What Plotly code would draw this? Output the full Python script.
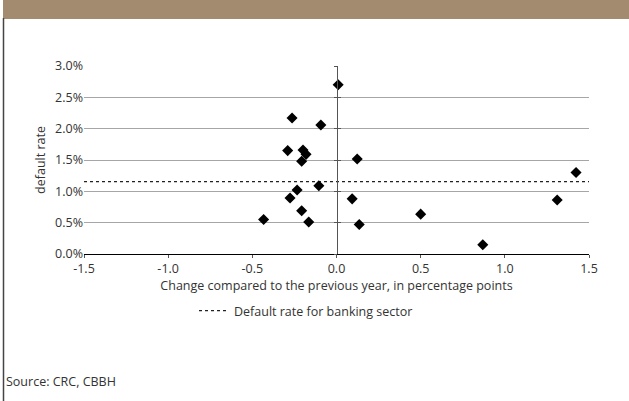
import plotly.graph_objects as go

# Data
change_pp = [-0.264, -0.093, -0.290, -0.199, -0.181, -0.207, -0.105, -0.234, -0.276,
             -0.207, -0.165, -0.433, 0.010, 0.123, 0.093, 0.135, 0.500, 0.869, 1.311, 1.423]
default_rate = [2.17, 2.06, 1.65, 1.66, 1.59, 1.48, 1.09, 1.02, 0.895,
                0.69, 0.51, 0.55, 2.70, 1.515, 0.88, 0.47, 0.636, 0.148, 0.863, 1.30]
sector_rate = 1.155
x_range = [-1.5, 1.5]
x_ticks = [-1.5, -1.0, -0.5, 0.0, 0.5, 1.0, 1.5]
x_ticktext = ["-1.5", "-1.0", "-0.5", "0.0", "0.5", "1.0", "1.5"]
y_ticks = [0.0, 0.5, 1.0, 1.5, 2.0, 2.5, 3.0]
y_ticktext = ["0.0%", "0.5%", "1.0%", "1.5%", "2.0%", "2.5%", "3.0%"]

FONT = "Open Sans"
TXT = "#333333"
FS = 12.5

fig = go.Figure()
fig.add_trace(go.Scatter(
    x=x_range, y=[sector_rate, sector_rate], mode="lines",
    line=dict(color="#222222", width=1.3, dash="dot"),
    name="Default rate for banking sector", hoverinfo="skip"))
fig.add_trace(go.Scatter(
    x=change_pp, y=default_rate, mode="markers",
    marker=dict(symbol="diamond", size=8.5, color="black"),
    showlegend=False))
# helper traces for vertical axis at x=0 (tick crosses)
fig.add_trace(go.Scatter(x=[None], y=[None], yaxis="y2", showlegend=False, hoverinfo="skip"))
fig.add_trace(go.Scatter(x=[None], y=[None], yaxis="y3", showlegend=False, hoverinfo="skip"))

W, H = 629, 401
L, R, T, B = 84, 40, 66, 147
pw, ph = W - L - R, H - T - B

def px(xp):
    return (xp - L) / pw

def py(yp):
    return 1 + (T - yp) / ph

shapes = [
    dict(type="rect", xref="paper", yref="paper", x0=px(3), x1=px(629), y0=py(19), y1=py(0),
         fillcolor="#A38B6F", line=dict(width=0), layer="below"),
    dict(type="line", xref="paper", yref="paper", x0=px(3.5), x1=px(3.5), y0=py(18), y1=py(401),
         line=dict(color="#444444", width=1.5)),
]

fig.update_layout(
    width=W, height=H,
    margin=dict(l=L, r=R, t=T, b=B),
    paper_bgcolor="white", plot_bgcolor="white",
    font=dict(family=FONT, size=FS, color=TXT),
    xaxis=dict(range=x_range, tickvals=x_ticks, ticktext=x_ticktext,
               showgrid=False, zeroline=False, showline=True, linecolor="black", linewidth=1,
               ticks="outside", ticklen=3, tickcolor="#555555",
               title=dict(text="Change compared to the previous year, in percentage points",
                          font=dict(size=FS, color=TXT), standoff=0),
               tickfont=dict(size=FS, color=TXT), fixedrange=True),
    yaxis=dict(range=[0, 3.0], tickvals=y_ticks, ticktext=y_ticktext,
               showgrid=True, gridcolor="#A6A6A6", gridwidth=1, zeroline=False, showline=False,
               ticks="", title=dict(text="default rate", font=dict(size=FS, color=TXT), standoff=6),
               tickfont=dict(size=FS, color=TXT), fixedrange=True),
    yaxis2=dict(range=[0, 3.0], overlaying="y", anchor="free", position=0.5, side="left",
                showline=True, linecolor="#555555", linewidth=1, showgrid=False, zeroline=False,
                tickvals=y_ticks, ticks="outside", ticklen=3, tickcolor="#555555",
                showticklabels=False, fixedrange=True),
    yaxis3=dict(range=[0, 3.0], overlaying="y", anchor="free", position=0.5, side="left",
                showline=False, showgrid=False, zeroline=False,
                tickvals=y_ticks, ticks="inside", ticklen=3, tickcolor="#555555",
                showticklabels=False, fixedrange=True),
    showlegend=True,
    legend=dict(orientation="h", x=px(194), xanchor="left", y=py(296), yanchor="top",
                font=dict(size=FS, color=TXT), bgcolor="rgba(0,0,0,0)", itemwidth=30),
    shapes=shapes,
    annotations=[dict(text="Source: CRC, CBBH", xref="paper", yref="paper",
                      x=px(4), y=py(381), xanchor="left", yanchor="middle", showarrow=False,
                      font=dict(size=FS, color=TXT))],
)

fig.write_html("out.html", config={"displayModeBar": False},
               post_script="document.body.style.margin='0px';")
